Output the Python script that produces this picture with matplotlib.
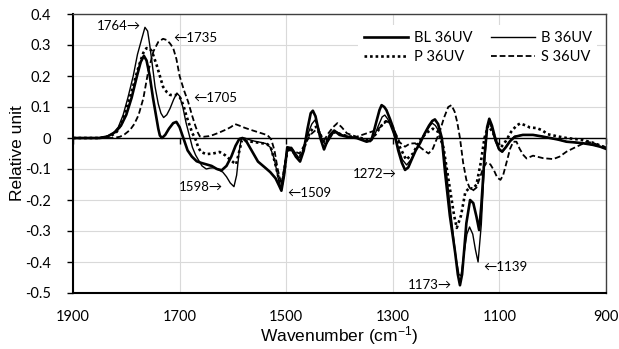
import matplotlib
matplotlib.use("Agg")
import matplotlib.pyplot as plt

# ---------------- data ----------------
wn_BL = [1900, 1850, 1835, 1820, 1810, 1800, 1790, 1780, 1773, 1767, 1762, 1756, 1750, 1744, 1740,
         1737, 1733, 1727, 1720, 1712, 1706, 1700, 1693, 1685, 1677, 1668, 1660, 1650, 1640, 1630,
         1621, 1612, 1603, 1595, 1588, 1582, 1575, 1565, 1553, 1540, 1530, 1520, 1513, 1509, 1504,
         1498, 1490, 1482, 1474, 1467, 1460, 1454, 1450, 1445, 1440, 1436, 1429, 1423, 1418, 1410,
         1400, 1386, 1368, 1349, 1340, 1335, 1330, 1325, 1321, 1316, 1312, 1305, 1299, 1290, 1283,
         1277, 1271, 1265, 1257, 1249, 1240, 1232, 1226, 1221, 1215, 1208, 1202, 1193, 1183, 1178,
         1174, 1170, 1166, 1162, 1155, 1149, 1143, 1138, 1134, 1128, 1123, 1119, 1114, 1108, 1101,
         1095, 1088, 1080, 1071, 1056, 1037, 1020, 1005, 990, 974, 960, 943, 925, 911, 900]
val_BL = [0.0, 0.0, 0.005, 0.02, 0.04, 0.075, 0.13, 0.2, 0.245, 0.265, 0.25, 0.2, 0.13, 0.07, 0.03,
          0.008, 0.0, 0.01, 0.03, 0.048, 0.052, 0.035, 0.0, -0.04, -0.06, -0.075, -0.08, -0.085, -0.09, -0.1,
          -0.104, -0.09, -0.06, -0.025, -0.003, 0.0, -0.01, -0.04, -0.076, -0.095, -0.11, -0.13, -0.155, -0.17, -0.12,
          -0.03, -0.035, -0.06, -0.076, -0.04, 0.03, 0.08, 0.088, 0.07, 0.03, 0.0, -0.037, -0.01, 0.01, 0.024,
          0.01, 0.004, 0.0, -0.012, -0.006, 0.025, 0.058, 0.09, 0.106, 0.1, 0.09, 0.06, 0.031, -0.039, -0.08,
          -0.103, -0.095, -0.071, -0.04, -0.017, 0.015, 0.04, 0.055, 0.06, 0.045, 0.0, -0.11, -0.25, -0.37, -0.44,
          -0.475, -0.44, -0.36, -0.275, -0.2, -0.21, -0.254, -0.297, -0.22, -0.06, 0.035, 0.062, 0.04, 0.0, -0.035,
          -0.044, -0.03, -0.01, 0.004, 0.01, 0.01, 0.005, 0.0, -0.005, -0.012, -0.014, -0.017, -0.022, -0.028, -0.035]

wn_B = [1900, 1860, 1840, 1825, 1815, 1806, 1797, 1787, 1779, 1771, 1765, 1760, 1756, 1750, 1746,
        1740, 1735, 1730, 1724, 1718, 1711, 1705, 1700, 1694, 1688, 1682, 1676, 1670, 1665, 1658,
        1650, 1643, 1635, 1627, 1619, 1612, 1605, 1598, 1593, 1588, 1584, 1578, 1570, 1560, 1548,
        1538, 1530, 1522, 1515, 1509, 1504, 1498, 1490, 1482, 1476, 1468, 1460, 1452, 1446, 1440,
        1434, 1426, 1419, 1412, 1405, 1395, 1380, 1365, 1350, 1342, 1335, 1327, 1320, 1315, 1309,
        1300, 1290, 1282, 1274, 1266, 1257, 1248, 1238, 1230, 1226, 1220, 1213, 1207, 1200, 1190,
        1182, 1176, 1172, 1167, 1161, 1156, 1150, 1145, 1140, 1134, 1128, 1123, 1119, 1114, 1108,
        1100, 1094, 1085, 1072, 1056, 1037, 1020, 1005, 990, 974, 960, 943, 925, 911, 900]
val_B = [0.0, 0.0, 0.003, 0.015, 0.035, 0.074, 0.13, 0.2, 0.27, 0.32, 0.357, 0.345, 0.3, 0.22, 0.165,
         0.11, 0.08, 0.066, 0.075, 0.095, 0.125, 0.145, 0.135, 0.1, 0.05, 0.01, -0.03, -0.055, -0.07, -0.09,
         -0.1, -0.097, -0.096, -0.103, -0.11, -0.125, -0.145, -0.157, -0.12, -0.04, 0.0, 0.0, -0.005, -0.01, -0.014,
         -0.018, -0.03, -0.07, -0.13, -0.165, -0.1, -0.03, -0.03, -0.05, -0.065, -0.04, 0.01, 0.045, 0.058, 0.035,
         0.0, -0.023, -0.005, 0.015, 0.02, 0.01, 0.003, 0.0, -0.01, -0.012, 0.005, 0.04, 0.068, 0.074, 0.06,
         0.02, -0.03, -0.07, -0.087, -0.07, -0.04, -0.01, 0.02, 0.04, 0.048, 0.04, 0.02, -0.01, -0.1, -0.26,
         -0.38, -0.44, -0.445, -0.38, -0.31, -0.287, -0.31, -0.36, -0.40, -0.28, -0.08, 0.03, 0.05, 0.03, -0.01,
         -0.04, -0.045, -0.02, 0.005, 0.01, 0.01, 0.005, 0.0, -0.005, -0.012, -0.014, -0.017, -0.022, -0.028, -0.035]

wn_P = [1900, 1850, 1830, 1818, 1808, 1799, 1790, 1782, 1775, 1768, 1762, 1756, 1752, 1743, 1737,
        1731, 1724, 1718, 1711, 1705, 1699, 1693, 1687, 1681, 1676, 1671, 1665, 1660, 1650, 1637,
        1625, 1615, 1605, 1598, 1594, 1589, 1583, 1575, 1560, 1545, 1535, 1528, 1521, 1514, 1509,
        1503, 1497, 1487, 1478, 1470, 1462, 1455, 1448, 1443, 1437, 1432, 1427, 1418, 1408, 1395,
        1380, 1360, 1345, 1337, 1330, 1318, 1309, 1300, 1288, 1275, 1262, 1250, 1238, 1225, 1215,
        1205, 1195, 1185, 1180, 1172, 1164, 1156, 1150, 1143, 1135, 1128, 1121, 1113, 1105, 1097,
        1088, 1078, 1068, 1061, 1050, 1043, 1030, 1020, 1009, 990, 974, 955, 943, 925, 905, 900]
val_P = [0.0, 0.0, 0.005, 0.02, 0.05, 0.1, 0.15, 0.2, 0.24, 0.275, 0.29, 0.288, 0.28, 0.235, 0.2,
         0.165, 0.148, 0.139, 0.138, 0.139, 0.13, 0.106, 0.07, 0.04, 0.015, 0.0, -0.03, -0.045, -0.052, -0.05,
         -0.045, -0.055, -0.07, -0.08, -0.085, -0.05, -0.006, -0.01, -0.013, -0.017, -0.02, -0.035, -0.08, -0.13, -0.16,
         -0.1, -0.03, -0.045, -0.065, -0.05, -0.01, 0.02, 0.034, 0.036, 0.015, -0.005, -0.015, 0.008, 0.02, 0.01,
         0.005, 0.0, -0.008, 0.0, 0.018, 0.048, 0.058, 0.035, -0.025, -0.07, -0.05, -0.01, 0.015, 0.03, 0.02,
         -0.03, -0.14, -0.25, -0.29, -0.25, -0.175, -0.16, -0.165, -0.15, -0.08, 0.0, 0.04, 0.02, -0.01, -0.03,
         -0.01, 0.02, 0.04, 0.047, 0.04, 0.034, 0.032, 0.025, 0.012, 0.005, 0.0, -0.004, -0.007, -0.015, -0.028, -0.032]

wn_S = [1900, 1850, 1825, 1812, 1803, 1793, 1785, 1777, 1768, 1759, 1749, 1740, 1731, 1724, 1718,
        1712, 1706, 1700, 1692, 1684, 1677, 1671, 1666, 1662, 1655, 1645, 1637, 1625, 1612, 1604,
        1596, 1588, 1578, 1566, 1555, 1544, 1535, 1528, 1522, 1516, 1509, 1503, 1498, 1490, 1482,
        1475, 1465, 1455, 1445, 1437, 1428, 1421, 1412, 1404, 1396, 1386, 1368, 1349, 1330, 1320,
        1312, 1304, 1296, 1287, 1277, 1268, 1258, 1245, 1233, 1225, 1218, 1211, 1204, 1196, 1190,
        1184, 1179, 1174, 1168, 1162, 1156, 1150, 1143, 1136, 1130, 1124, 1117, 1110, 1104, 1098,
        1093, 1086, 1080, 1074, 1068, 1062, 1055, 1049, 1037, 1018, 999, 987, 974, 960, 949, 936,
        925, 911, 900]
val_S = [0.0, 0.0, 0.0, 0.004, 0.012, 0.026, 0.045, 0.074, 0.128, 0.214, 0.28, 0.31, 0.32, 0.316, 0.305,
         0.29, 0.255, 0.2, 0.155, 0.117, 0.075, 0.042, 0.018, 0.005, 0.004, 0.006, 0.01, 0.018, 0.028, 0.035,
         0.045, 0.04, 0.033, 0.026, 0.02, 0.014, 0.009, -0.005, -0.04, -0.1, -0.15, -0.09, -0.04, -0.04, -0.045,
         -0.05, -0.02, 0.01, 0.025, 0.015, -0.005, 0.015, 0.035, 0.048, 0.035, 0.015, 0.004, 0.015, 0.026, 0.04,
         0.055, 0.045, 0.02, -0.014, -0.028, -0.018, -0.017, -0.035, -0.05, -0.035, -0.005, 0.026, 0.065, 0.1, 0.106,
         0.085, 0.05, 0.0, -0.08, -0.135, -0.16, -0.17, -0.16, -0.125, -0.095, -0.08, -0.085, -0.105, -0.128, -0.135,
         -0.12, -0.075, -0.035, -0.012, -0.012, -0.035, -0.055, -0.066, -0.057, -0.065, -0.068, -0.06, -0.044, -0.032, -0.023, -0.012,
         -0.016, -0.024, -0.03]

series_names = ["BL 36UV", "B 36UV", "P 36UV", "S 36UV"]

x_ticks = [1900, 1700, 1500, 1300, 1100, 900]
y_ticks = [-0.5, -0.4, -0.3, -0.2, -0.1, 0.0, 0.1, 0.2, 0.3, 0.4]
y_tick_labels = ["-0.5", "-0.4", "-0.3", "-0.2", "-0.1", "0", "0.1", "0.2", "0.3", "0.4"]

ann_texts = ["1764\u2192", "\u21901735", "\u21901705", "1598\u2192", "\u21901509",
             "1272\u2192", "\u21901139", "1173\u2192"]
ann_x = [1773, 1712, 1675, 1619, 1498, 1292, 1131, 1189]
ann_y = [0.36, 0.322, 0.129, -0.158, -0.178, -0.116, -0.416, -0.474]
ann_ha = ["right", "left", "left", "right", "left", "right", "left", "right"]

# ---------------- figure ----------------
plt.rcParams["mathtext.default"] = "regular"
fig = plt.figure(figsize=(6.19, 3.49), dpi=100)
ax = fig.add_axes([73 / 619, 1 - 293 / 349, (606 - 73) / 619, (293 - 14) / 349])

tick_font = ["Lato", "DejaVu Sans"]
label_font = ["Liberation Sans", "DejaVu Sans"]

ax.set_xlim(1900, 900)
ax.set_ylim(-0.5, 0.4)
ax.set_xticks(x_ticks)
ax.set_yticks(y_ticks)
ax.set_yticklabels(y_tick_labels)
ax.grid(True, color="#d9d9d9", linewidth=0.8, zorder=0)
ax.set_axisbelow(True)
ax.axhline(0, color="black", linewidth=1.0, zorder=2)
ax.plot(x_ticks, [0] * len(x_ticks), ls="none", marker=3, ms=4, mew=1.0, color="black", zorder=2, clip_on=False)

l_bl, = ax.plot(wn_BL, val_BL, color="black", lw=1.9, solid_joinstyle="round", zorder=3)
l_b, = ax.plot(wn_B, val_B, color="black", lw=1.0, zorder=3)
l_p, = ax.plot(wn_P, val_P, color="black", lw=1.9, linestyle=(0, (1, 1.1)), zorder=3)
l_s, = ax.plot(wn_S, val_S, color="black", lw=1.3, linestyle=(0, (3.2, 1.6)), zorder=3)

for sp in ["left", "bottom"]:
    ax.spines[sp].set_color("black")
    ax.spines[sp].set_linewidth(1.5)
for sp in ["top", "right"]:
    ax.spines[sp].set_color("#404040")
    ax.spines[sp].set_linewidth(1.0)

ax.tick_params(axis="y", length=4, width=1, pad=12, labelsize=10.5)
ax.tick_params(axis="x", length=0, pad=12, labelsize=10.5)
for t in ax.get_xticklabels() + ax.get_yticklabels():
    t.set_family(tick_font)

ax.set_xlabel("Wavenumber (cm$^{-1}$)", fontsize=12.5, family=label_font, labelpad=0)
ax.set_ylabel("Relative unit", fontsize=12.5, family=label_font, labelpad=0)

for t, x, y, ha in zip(ann_texts, ann_x, ann_y, ann_ha):
    ax.text(x, y, t, ha=ha, va="center", fontsize=9.5, family=tick_font, zorder=5)

leg = ax.legend([l_bl, l_p, l_b, l_s], [series_names[0], series_names[2], series_names[1], series_names[3]],
                ncol=2, loc="upper right", bbox_to_anchor=(0.984, 0.96), frameon=True,
                fancybox=False, edgecolor="none", facecolor="white", framealpha=1,
                prop={"family": tick_font, "size": 10.5}, handlelength=3.0, handletextpad=0.4,
                columnspacing=1.3, labelspacing=0.35, borderpad=0.4, borderaxespad=0)
leg.set_zorder(6)

fig.savefig("out.png", dpi=100)
